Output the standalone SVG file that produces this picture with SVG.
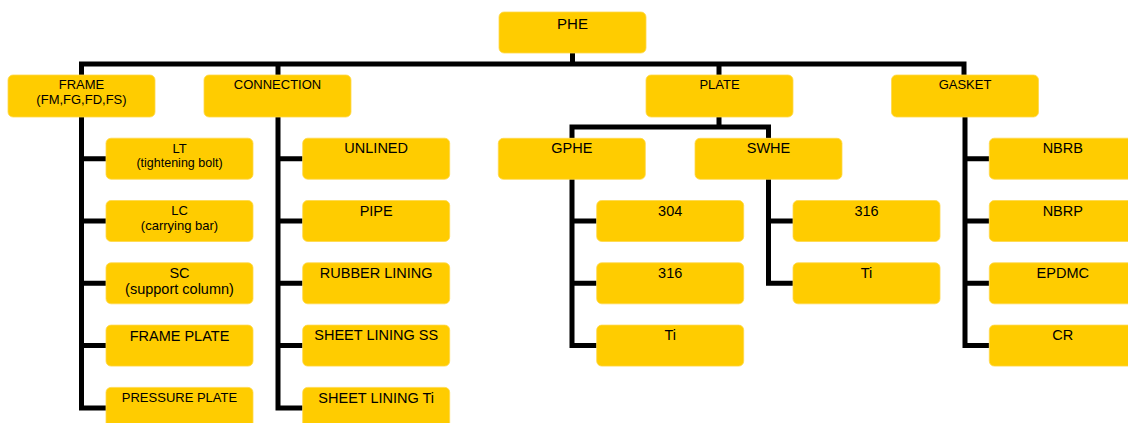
<svg xmlns="http://www.w3.org/2000/svg" width="1128" height="423" viewBox="0 0 1128 423">
<style>
.box{fill:#FFCC00;stroke:#FFD84A;stroke-width:0.8}
.t{font-family:"Liberation Sans",Arial,sans-serif;fill:#000;text-anchor:middle}
.s13{font-size:13px}
.s14{font-size:14.5px}
.c{fill:none;stroke:#000;stroke-width:5;stroke-linejoin:miter}
</style>
<rect width="1128" height="423" fill="#fff"/>
<g id="connectors" class="c">
<path d="M572.5,53 V64"/>
<path d="M81.5,75 V64 H964 V75"/>
<path d="M278,64 V75"/>
<path d="M719,64 V75"/>
<path d="M81.5,117 V407.9 H106"/>
<path d="M81.5,158.7 H106 M81.5,221 H106 M81.5,283.3 H106 M81.5,345.6 H106"/>
<path d="M278,117 V407.9 H302.7"/>
<path d="M278,158.7 H302.7 M278,221 H302.7 M278,283.3 H302.7 M278,345.6 H302.7"/>
<path d="M719,117 V127 M572,138.3 V127 H768.5 V138.3"/>
<path d="M572,179 V345.6 H596.7 M572,221 H596.7 M572,283.3 H596.7"/>
<path d="M768.5,179 V283.3 H793 M768.5,221 H793"/>
<path d="M965,117 V345.6 H989.3 M965,158.7 H989.3 M965,221 H989.3 M965,283.3 H989.3"/>
</g>
<g id="phe"><rect class="box" x="499" y="12" width="147" height="41" rx="5"/><text class="t" x="572.5" y="29" font-size="15">PHE</text></g>
<g id="frame"><rect class="box" x="8" y="75" width="147" height="42" rx="5"/><text class="t s13" x="81.5" y="89.3">FRAME</text><text class="t s13" x="81.5" y="104">(FM,FG,FD,FS)</text></g>
<g id="connection"><rect class="box" x="204" y="75" width="147" height="42" rx="5"/><text class="t s13" x="277.5" y="89.3">CONNECTION</text></g>
<g id="plate"><rect class="box" x="646" y="75" width="147" height="42" rx="5"/><text class="t s13" x="719.5" y="89.3">PLATE</text></g>
<g id="gasket"><rect class="box" x="891.5" y="75" width="147" height="42" rx="5"/><text class="t s13" x="965" y="89.3">GASKET</text></g>
<g id="lt"><rect class="box" x="106" y="138.2" width="147" height="41" rx="5"/><text class="t s13" x="179.5" y="152.7">LT</text><text class="t" x="179.5" y="167.3" font-size="12.5">(tightening bolt)</text></g>
<g id="lc"><rect class="box" x="106" y="200.5" width="147" height="41" rx="5"/><text class="t s13" x="179.5" y="215">LC</text><text class="t s13" x="179.5" y="229.6">(carrying bar)</text></g>
<g id="sc"><rect class="box" x="106" y="262.8" width="147" height="41" rx="5"/><text class="t s14" x="179.5" y="278.3">SC</text><text class="t s14" x="179.5" y="293.6">(support column)</text></g>
<g id="frame-plate"><rect class="box" x="106" y="325.1" width="147" height="41" rx="5"/><text class="t s14" x="179.5" y="340.7">FRAME PLATE</text></g>
<g id="pressure-plate"><rect class="box" x="106" y="387.4" width="147" height="41" rx="5"/><text class="t s13" x="179.5" y="401.7">PRESSURE PLATE</text></g>
<g id="unlined"><rect class="box" x="302.7" y="138.2" width="147" height="41" rx="5"/><text class="t s14" x="376.2" y="153.3">UNLINED</text></g>
<g id="pipe"><rect class="box" x="302.7" y="200.5" width="147" height="41" rx="5"/><text class="t s14" x="376.2" y="215.6">PIPE</text></g>
<g id="rubber-lining"><rect class="box" x="302.7" y="262.8" width="147" height="41" rx="5"/><text class="t s14" x="376.2" y="278">RUBBER LINING</text></g>
<g id="sheet-lining-ss"><rect class="box" x="302.7" y="325.1" width="147" height="41" rx="5"/><text class="t s14" x="376.2" y="340.4">SHEET LINING SS</text></g>
<g id="sheet-lining-ti"><rect class="box" x="302.7" y="387.4" width="147" height="41" rx="5"/><text class="t s14" x="376.2" y="402.7">SHEET LINING Ti</text></g>
<g id="gphe"><rect class="box" x="498.3" y="138.3" width="147" height="41" rx="5"/><text class="t s14" x="571.8" y="153.4">GPHE</text></g>
<g id="swhe"><rect class="box" x="695" y="138.3" width="147" height="41" rx="5"/><text class="t s14" x="768.5" y="153.4">SWHE</text></g>
<g id="gphe-304"><rect class="box" x="596.7" y="200.5" width="147" height="41" rx="5"/><text class="t s14" x="670.2" y="215.6">304</text></g>
<g id="gphe-316"><rect class="box" x="596.7" y="262.8" width="147" height="41" rx="5"/><text class="t s14" x="670.2" y="277.9">316</text></g>
<g id="gphe-ti"><rect class="box" x="596.7" y="325.1" width="147" height="41" rx="5"/><text class="t s14" x="670.2" y="340.2">Ti</text></g>
<g id="swhe-316"><rect class="box" x="793" y="200.5" width="147" height="41" rx="5"/><text class="t s14" x="866.5" y="215.6">316</text></g>
<g id="swhe-ti"><rect class="box" x="793" y="262.8" width="147" height="41" rx="5"/><text class="t s14" x="866.5" y="277.9">Ti</text></g>
<g id="nbrb"><rect class="box" x="989.3" y="138.2" width="147" height="41" rx="5"/><text class="t s14" x="1062.8" y="153.3">NBRB</text></g>
<g id="nbrp"><rect class="box" x="989.3" y="200.5" width="147" height="41" rx="5"/><text class="t s14" x="1062.8" y="215.6">NBRP</text></g>
<g id="epdmc"><rect class="box" x="989.3" y="262.8" width="147" height="41" rx="5"/><text class="t s14" x="1062.8" y="277.9">EPDMC</text></g>
<g id="cr"><rect class="box" x="989.3" y="325.1" width="147" height="41" rx="5"/><text class="t s14" x="1062.8" y="340.2">CR</text></g>
</svg>
